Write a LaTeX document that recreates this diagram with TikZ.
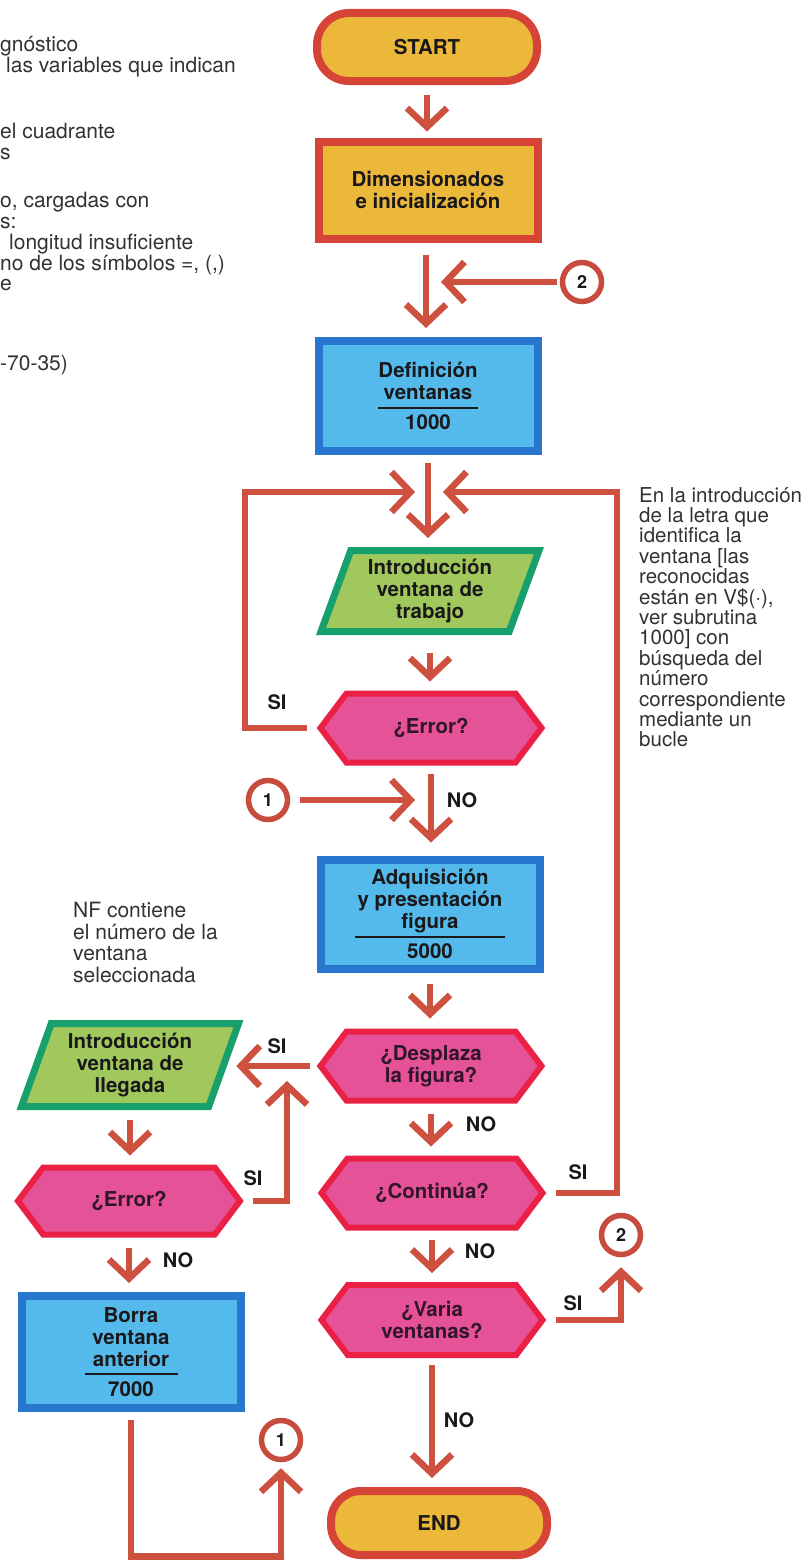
\documentclass[tikz,border=0pt]{standalone}
\usepackage{fontspec}
\setmainfont{TeX Gyre Heros}
\usetikzlibrary{arrows.meta,shapes.geometric,shapes.symbols}
\definecolor{arrc}{RGB}{206,80,62}
\definecolor{pillfill}{RGB}{236,184,58}
\definecolor{pillbd}{RGB}{214,68,56}
\definecolor{bluefill}{RGB}{84,186,236}
\definecolor{bluebd}{RGB}{40,118,206}
\definecolor{greenfill}{RGB}{160,200,92}
\definecolor{greenbd}{RGB}{24,160,108}
\definecolor{hexfill}{RGB}{230,82,152}
\definecolor{hexbd}{RGB}{234,32,68}
\definecolor{circbd}{RGB}{200,76,62}
\definecolor{txtc}{RGB}{26,24,26}
\definecolor{hextxt}{RGB}{48,22,40}
\definecolor{notec}{RGB}{50,50,50}
\begin{document}
\begin{tikzpicture}[x=1pt,y=-1pt,
  bt/.style={font=\fontsize{20.5}{22}\selectfont\bfseries, text=txtc, align=center, inner sep=0pt},
  pill/.style={bt, draw=pillbd, fill=pillfill, line width=8pt, rounded corners=32pt, minimum width=220pt, minimum height=68pt},
  gbox/.style={bt, draw=pillbd, fill=pillfill, line width=8pt, minimum width=219pt},
  bbox/.style={bt, draw=bluebd, fill=bluefill, line width=8pt, minimum width=219pt},
  para/.style={bt, trapezium, trapezium left angle=65, trapezium right angle=115, trapezium stretches body=true, draw=greenbd, fill=greenfill, line width=7pt, minimum width=218pt, minimum height=81pt},
  hexa/.style={bt, signal, signal to=east and west, signal pointer angle=106, draw=hexbd, fill=hexfill, line width=6pt, minimum width=221pt, minimum height=69pt, text=hextxt},
  conn/.style={circle, draw=circbd, fill=white, line width=5.5pt, minimum size=39pt, inner sep=0pt, font=\fontsize{18}{18}\selectfont\bfseries, text=txtc},
  arr/.style={draw=arrc, line width=6.5pt, -{Straight Barb[length=19pt,width=40pt]}},
  lbl/.style={font=\fontsize{20}{20}\selectfont\bfseries, text=txtc, inner sep=0pt},
  note/.style={font=\fontsize{21}{21}\selectfont, text=notec, align=left, inner sep=0pt},
]
\useasboundingbox (0,0) rectangle (807,1563);
\fill[white] (0,0) rectangle (807,1563);

% top-left cut-off notes
\node[note, anchor=base west] (n1) at (0,52) {gnóstico};
\node[note, anchor=base west] (n2) at (6,72) {las variables que indican};
\node[note, anchor=base west] (n3) at (0,138) {el cuadrante};
\node[note, anchor=base west] (n4) at (0,159) {s};
\node[note, anchor=base west] (n5) at (0,207) {o, cargadas con};
\node[note, anchor=base west] (n6) at (0,228) {s:};
\node[note, anchor=base west] (n7) at (9,249) {longitud insuficiente};
\node[note, anchor=base west] (n8) at (0,270) {no de los símbolos =, (,)};
\node[note, anchor=base west] (n9) at (0,290) {e};
\node[note, anchor=base west] (n10) at (0,370) {-70-35)};

% right note
\node[note, font=\fontsize{20.5}{20.4}\selectfont, anchor=north west] (rnote) at (639,487) {En la introducción\\de la letra que\\identifica la\\ventana [las\\reconocidas\\están en V\$(·),\\ver subrutina\\1000] con\\búsqueda del\\número\\correspondiente\\mediante un\\bucle};

% left note
\node[note, font=\fontsize{21}{21.7}\selectfont, anchor=north west] (lnote) at (73,902) {NF contiene\\el número de la\\ventana\\seleccionada};

% main column
\node[pill] (start) at (427,47) {START};
\node[gbox, minimum height=97pt] (dim) at (428,190) {Dimensionados\\e inicialización};
\node[bbox, minimum height=110pt] (def) at (428,396) {Definición\\ventanas\\[-13pt]\rule{100pt}{2pt}\\[-1pt]1000};
\node[para] (intro1) at (430,591) {Introducción\\ventana de\\trabajo};
\node[hexa] (err1) at (431,728) {¿Error?};
\node[bbox, minimum height=109pt] (adq) at (430,914) {Adquisición\\y presentación\\figura\\[-13pt]\rule{150pt}{2pt}\\[-1pt]5000};
\node[hexa] (desp) at (431,1066) {¿Desplaza\\la figura?};
\node[hexa] (cont) at (432,1193) {¿Continúa?};
\node[hexa, minimum height=70pt] (var) at (432,1320) {¿Varia\\ventanas?};
\node[pill, minimum width=216pt, minimum height=64pt, rounded corners=30pt] (end) at (439,1523) {END};

% left column
\node[para, minimum width=217pt, minimum height=83pt] (intro2) at (130,1065) {Introducción\\ventana de\\llegada};
\node[hexa, minimum width=222pt, minimum height=67pt] (err2) at (129,1201) {¿Error?};
\node[bbox, minimum height=112pt] (borra) at (131,1352) {Borra\\ventana\\anterior\\[-13pt]\rule{93pt}{2pt}\\[-1pt]7000};

% connectors (circles)
\node[conn] (c2top) at (582,282) {2};
\node[conn] (c1mid) at (268,800) {1};
\node[conn] (c2bot) at (621,1235) {2};
\node[conn] (c1bot) at (281,1440) {1};

\coordinate (t2) at (441,282);
\coordinate (jl) at (415,492);
\coordinate (jr) at (443,492);
\coordinate (t1) at (415,800);
\coordinate (t3) at (287,1081);

% arrows
\draw[arr] ([yshift=-10pt]start.south) -- ([yshift=6pt]start.south |- dim.north);
\draw[arr] ([xshift=-2pt,yshift=-12pt]dim.south) -- ([xshift=-2pt,yshift=9pt]dim.south |- def.north);
\draw[arr] ([xshift=-3pt]c2top.west) -- (t2);
\draw[arr] ([yshift=-8pt]def.south) -- ([yshift=9pt]def.south |- intro1.north);
\draw[arr] ([xshift=-10pt]err1.west) -| ([xshift=-170pt]jl) -- (jl);
\draw[arr] ([xshift=10pt]cont.east) -| ([xshift=174pt]jr) -- (jr);
\draw[arr] ([yshift=-18pt]intro1.south) -- ([yshift=9pt]intro1.south |- err1.north);
\draw[arr] ([yshift=-8pt]err1.south) -- ([yshift=13pt]err1.south |- adq.north);
\draw[arr] ([xshift=10pt]c1mid.east) -- (t1);
\draw[arr] ([yshift=-11pt]adq.south) -- ([yshift=10pt]adq.south |- desp.north);
\draw[arr] ([xshift=-7pt]desp.west) -- ([xshift=9pt]desp.west -| intro2.east);
\draw[arr] ([xshift=9pt]err2.east) -| (t3);
\draw[arr] ([yshift=-10pt]intro2.south) -- ([yshift=9pt]intro2.south |- err2.north);
\draw[arr] ([yshift=-10pt]err2.south) -- ([yshift=9pt]err2.south |- borra.north);
\draw[arr] ([yshift=-8pt]borra.south) |- ([yshift=-94pt]c1bot.south) -- ([yshift=-6pt]c1bot.south);
\draw[arr] ([yshift=-10pt]desp.south) -- ([yshift=9pt]desp.south |- cont.north);
\draw[arr] ([yshift=-9pt]cont.south) -- ([yshift=9pt]cont.south |- var.north);
\draw[arr] ([xshift=10pt]var.east) -| ([yshift=-10pt]c2bot.south);
\draw[arr] ([yshift=-7pt]var.south) -- ([yshift=9pt]var.south |- end.north);

% labels
\node[lbl] (l1) at (277,702) {SI};
\node[lbl] (l2) at (462,800) {NO};
\node[lbl] (l3) at (277,1046) {SI};
\node[lbl] (l4) at (253,1178) {SI};
\node[lbl] (l5) at (178,1260) {NO};
\node[lbl] (l6) at (481,1124) {NO};
\node[lbl] (l7) at (578,1172) {SI};
\node[lbl] (l8) at (480,1251) {NO};
\node[lbl] (l9) at (573,1303) {SI};
\node[lbl] (l10) at (459,1420) {NO};
\end{tikzpicture}
\end{document}
